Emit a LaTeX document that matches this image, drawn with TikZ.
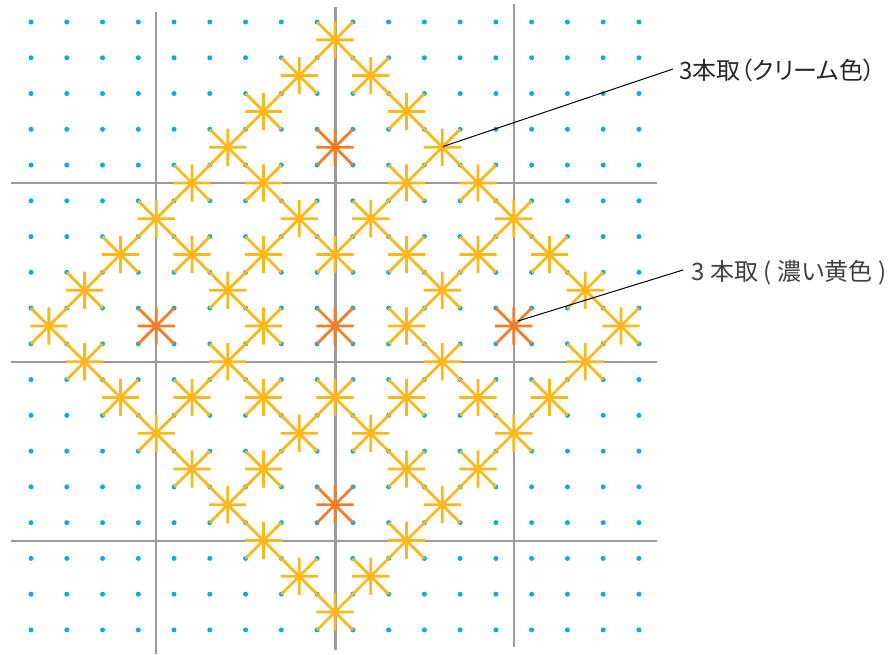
\documentclass[tikz,border=0pt]{standalone}
\usepackage{fontspec}
\setmainfont{Noto Sans CJK JP}
\newfontfamily\calloutfont[RawFeature=+palt]{Noto Sans CJK JP}
\definecolor{dotblue}{HTML}{00AEEF}
\definecolor{gridgray}{HTML}{9A9A9C}
\definecolor{creamyarn}{HTML}{FDB71A}
\definecolor{deepyarn}{HTML}{F47C26}
\tikzset{
    gridline/.style={gridgray, line width=2.4pt},
    leader/.style={black, line width=1pt},
    stitch/.style={line width=2.8pt},
    callout/.style={anchor=west, inner ysep=0pt, font=\calloutfont\fontsize{24}{28}\selectfont}
}
\newcommand{\widegap}{\hspace{5.7pt}}
% one stitch: cell column, cell row, colour
\newcommand{\stitchstar}[3]{
    \draw[stitch, #3] (#1,#2) -- (#1+1,#2+1) (#1+1,#2) -- (#1,#2+1)
        (#1-0.02,#2+0.5) -- (#1+1.02,#2+0.5) (#1+0.5,#2-0.02) -- (#1+0.5,#2+1.02);
}
\begin{document}
\begin{tikzpicture}[x=1pt, y=-1pt]
    \useasboundingbox (0,0) rectangle (896,654);

    % Grid lines
    \draw[gridline] (156,12) -- (156,654);
    \draw[gridline] (335.5,7) -- (335.5,650);
    \draw[gridline] (514,4) -- (514,647);
    \foreach \y in {183,362,541} {
        \draw[gridline] (11,\y) -- (657,\y);
    }

    \begin{scope}[shift={(31,22)}, x=35.76pt, y=-35.76pt]
        % Dots
        \foreach \i in {0,...,17} {
            \foreach \j in {0,...,17} {
                \fill[dotblue] (\i,\j) circle[radius=2.5pt];
            }
        }

        % Cream stitches
        \foreach \r/\cols in {0/{8},1/{7,9},2/{6,10},3/{5,11},4/{4,6,10,12},
                5/{3,7,9,13},6/{2,4,6,8,10,12,14},7/{1,5,11,15},8/{0,6,10,16},
                9/{1,5,11,15},10/{2,4,6,8,10,12,14},11/{3,7,9,13},12/{4,6,10,12},
                13/{5,11},14/{6,10},15/{7,9},16/{8}} {
            \foreach \c in \cols {
                \stitchstar{\c}{\r}{creamyarn}
            }
        }

        % Deep yellow stitches
        \foreach \c/\r in {8/3,3/8,8/8,13/8,8/13} {
            \stitchstar{\c}{\r}{deepyarn}
        }
    \end{scope}

    % Labels
    \coordinate (creamstar) at (443,146.5);
    \coordinate (deepstar) at (518,321);
    \node[callout, inner xsep=6pt, text=black!85] (creamlabel) at (673,70) {3本取（クリーム色）};
    \node[callout, inner xsep=8pt, text=black!75] (deeplabel) at (683,272.5) {3\widegap 本取\widegap (\widegap 濃い黄色\widegap )};
    \draw[leader] (creamstar) -- ([yshift=1pt]creamlabel.west);
    \draw[leader] (deepstar) -- ([yshift=2.5pt]deeplabel.west);
\end{tikzpicture}
\end{document}
